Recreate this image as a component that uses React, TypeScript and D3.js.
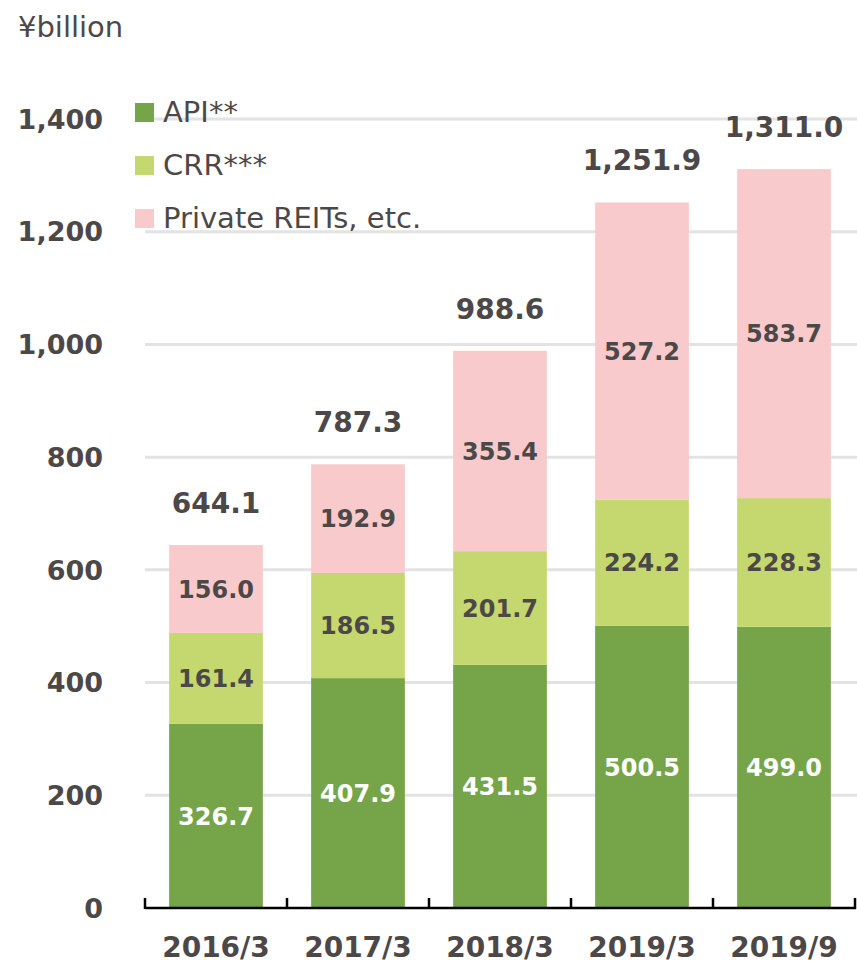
import React from "react";
import * as d3 from "d3";

const categories = ["2016/3", "2017/3", "2018/3", "2019/3", "2019/9"];
const apiValues = [326.7, 407.9, 431.5, 500.5, 499.0];
const crrValues = [161.4, 186.5, 201.7, 224.2, 228.3];
const privateValues = [156.0, 192.9, 355.4, 527.2, 583.7];
const totals = ["644.1", "787.3", "988.6", "1,251.9", "1,311.0"];
const yTicks = [0, 200, 400, 600, 800, 1000, 1200, 1400];
const seriesNames = ["API**", "CRR***", "Private REITs, etc."];
const seriesColors = ["#75a449", "#c4d86f", "#f8cacc"];
const labelColors = ["#ffffff", "#4d4848", "#4d4848"];

const W = 857;
const H = 965;
const FONT = "'DejaVu Sans', Verdana, sans-serif";
const TEXT = "#4d4848";

export default function App() {
  const x = d3.scaleBand<string>().domain(categories).range([145, 855]).paddingInner(0.34).paddingOuter(0.17);
  const y = d3.scaleLinear().domain([0, 1400]).range([908, 119]);

  const rows = categories.map((c, i) => ({
    cat: c,
    s0: apiValues[i],
    s1: crrValues[i],
    s2: privateValues[i],
  }));
  const stack = d3.stack<any>().keys(["s0", "s1", "s2"])(rows);
  const fmt = d3.format(".1f");

  return (
    <svg width={W} height={H} style={{ position: "absolute", left: 0, top: 0 }} fontFamily={FONT}>
      <rect width={W} height={H} fill="#ffffff" />
      <text x={18} y={37} fontSize={29} fill={TEXT}>¥billion</text>
      {yTicks.slice(1).map((t) => (
        <line key={t} x1={145} x2={857} y1={y(t)} y2={y(t)} stroke="#e3e3e3" strokeWidth={3} />
      ))}
      {yTicks.map((t) => (
        <text key={t} x={103} y={y(t)} dy="0.36em" textAnchor="end" fontSize={27} fontWeight="bold" fill={TEXT}>
          {d3.format(",")(t)}
        </text>
      ))}
      {stack.map((layer, si) => (
        <g key={si}>
          {layer.map((d, i) => (
            <rect
              key={i}
              x={x(categories[i])}
              width={x.bandwidth()}
              y={y(d[1])}
              height={y(d[0]) - y(d[1])}
              fill={seriesColors[si]}
            />
          ))}
        </g>
      ))}
      {stack.map((layer, si) => (
        <g key={"l" + si}>
          {layer.map((d, i) => (
            <text
              key={i}
              x={(x(categories[i]) as number) + x.bandwidth() / 2}
              y={(y(d[0]) + y(d[1])) / 2}
              dy="0.36em"
              textAnchor="middle"
              fontSize={24}
              fontWeight="bold"
              fill={labelColors[si]}
            >
              {fmt(d[1] - d[0])}
            </text>
          ))}
        </g>
      ))}
      {stack[2].map((d, i) => (
        <text
          key={"t" + i}
          x={(x(categories[i]) as number) + x.bandwidth() / 2}
          y={y(d[1]) - 32}
          textAnchor="middle"
          fontSize={28}
          fontWeight="bold"
          fill={TEXT}
        >
          {totals[i]}
        </text>
      ))}
      <line x1={145} x2={856} y1={908} y2={908} stroke="#000" strokeWidth={2.5} />
      {categories.map((c, i) => (
        <line key={"tk" + i} x1={x(c)! - x.step() * x.paddingInner() / 2} x2={x(c)! - x.step() * x.paddingInner() / 2} y1={898} y2={909} stroke="#000" strokeWidth={2.5} />
      ))}
      <line x1={855} x2={855} y1={898} y2={909} stroke="#000" strokeWidth={2.5} />
      {categories.map((c) => (
        <text key={"c" + c} x={x(c)! + x.bandwidth() / 2} y={957} textAnchor="middle" fontSize={28} fontWeight="bold" fill={TEXT}>
          {c}
        </text>
      ))}
      {seriesNames.map((n, i) => (
        <g key={n} transform={`translate(135, ${103 + i * 53})`}>
          <rect width={19} height={19} fill={seriesColors[i]} />
          <text x={28} y={9.5} dy="0.33em" fontSize={29} fill={TEXT}>{n}</text>
        </g>
      ))}
    </svg>
  );
}
